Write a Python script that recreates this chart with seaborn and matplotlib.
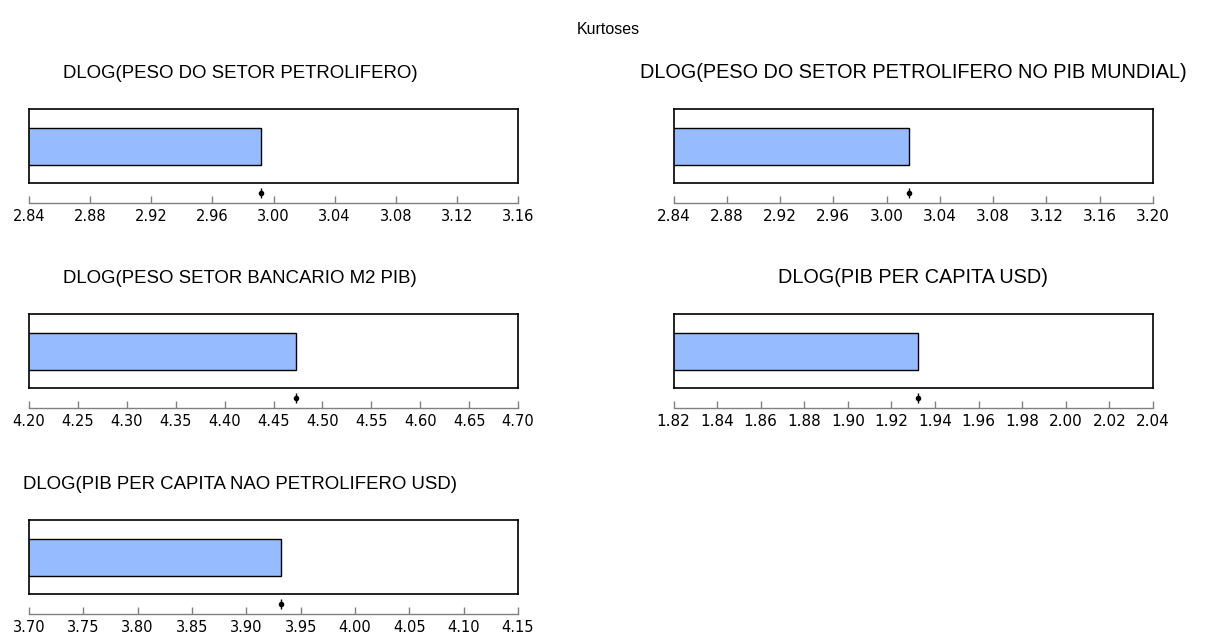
import matplotlib
matplotlib.use("Agg")
import matplotlib.pyplot as plt
import matplotlib.transforms as mtransforms
import pandas as pd
import seaborn as sns

sns.set_theme(style="white")
plt.rcParams["font.family"] = ["Liberation Sans", "DejaVu Sans"]

# Kurtosis of each differenced log series
series_titles = [
    "DLOG(PESO DO SETOR PETROLIFERO)",
    "DLOG(PESO DO SETOR PETROLIFERO NO PIB MUNDIAL)",
    "DLOG(PESO SETOR BANCARIO M2 PIB)",
    "DLOG(PIB PER CAPITA USD)",
    "DLOG(PIB PER CAPITA NAO PETROLIFERO USD)",
]
kurtosis_values = [2.992, 3.017, 4.473, 1.932, 3.932]

ticks_peso_petro = [2.84, 2.88, 2.92, 2.96, 3.00, 3.04, 3.08, 3.12, 3.16]
ticks_peso_mundial = [2.84, 2.88, 2.92, 2.96, 3.00, 3.04, 3.08, 3.12, 3.16, 3.20]
ticks_bancario = [4.20, 4.25, 4.30, 4.35, 4.40, 4.45, 4.50, 4.55, 4.60, 4.65, 4.70]
ticks_pib_pc = [1.82, 1.84, 1.86, 1.88, 1.90, 1.92, 1.94, 1.96, 1.98, 2.00, 2.02, 2.04]
ticks_pib_nao_petro = [3.70, 3.75, 3.80, 3.85, 3.90, 3.95, 4.00, 4.05, 4.10, 4.15]
tick_sets = [ticks_peso_petro, ticks_peso_mundial, ticks_bancario,
             ticks_pib_pc, ticks_pib_nao_petro]

W, H = 1217, 637
fig = plt.figure(figsize=(W / 100, H / 100), dpi=100)
fig.patch.set_facecolor("white")

# panel frames in pixels: (left, top, width)
col_left = [29, 673.5]
col_width = [489, 479.5]
row_top = [109, 314, 520]
box_h = 74
title_x = [0.432, 0.5]
title_size = [13.4, 14.3]
tick_size = [10.5, 11.0]

BAR_COLOR = "#96BCFF"

for i, (title, val, ticks) in enumerate(zip(series_titles, kurtosis_values, tick_sets)):
    r, c = divmod(i, 2)
    left = col_left[c] / W
    bottom = 1 - (row_top[r] + box_h) / H
    ax = fig.add_axes([left, bottom, col_width[c] / W, box_h / H])

    df = pd.DataFrame({"serie": [title], "kurtosis": [val]})
    sns.barplot(data=df, x="kurtosis", y="serie", orient="h", ax=ax,
                color=BAR_COLOR, saturation=1, width=0.5,
                edgecolor="black", linewidth=1.0)

    ax.set_xlim(ticks[0], ticks[-1])
    ax.set_ylim(0.5, -0.5)
    ax.set_xticks([])
    ax.set_yticks([])
    ax.set_xlabel("")
    ax.set_ylabel("")
    for sp in ax.spines.values():
        sp.set_visible(True)
        sp.set_color("black")
        sp.set_linewidth(1.2)

    ax.set_title(title, x=title_x[c], pad=22, fontsize=title_size[c], color="black")

    # detached value axis below the frame
    sec = ax.secondary_xaxis(-0.27)
    sec.set_xticks(ticks)
    sec.set_xticklabels([f"{t:.2f}" for t in ticks], fontfamily="DejaVu Sans")
    sec.tick_params(axis="x", direction="in", length=5, width=1,
                    color="#808080", labelsize=tick_size[c], pad=4, labelcolor="black")
    sec.spines["bottom"].set_color("#808080")
    sec.spines["bottom"].set_linewidth(1)

    # mean marker between frame and axis
    trans = mtransforms.blended_transform_factory(ax.transData, ax.transAxes)
    ax.plot([val], [-0.135], marker="|", markersize=7, color="black",
            markeredgewidth=1, transform=trans, clip_on=False)
    ax.plot([val], [-0.135], marker="o", markersize=3, color="black",
            transform=trans, clip_on=False)

fig.text(0.4996, 1 - 29 / H, "Kurtoses", ha="center", va="center",
         fontsize=11.5, color="black")

fig.savefig("out.png", dpi=100, facecolor="white")
